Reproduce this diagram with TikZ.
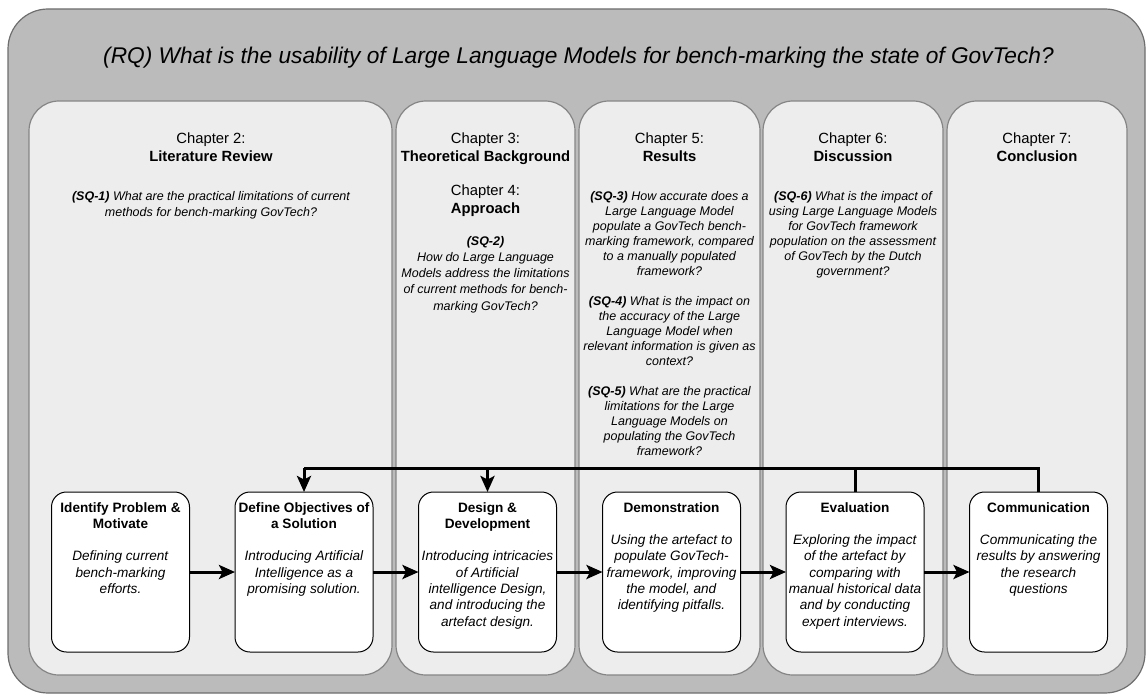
\documentclass[tikz,border=0pt]{standalone}
\usepackage{fontspec}
\setmainfont{Liberation Sans}
\usetikzlibrary{arrows.meta}

\definecolor{framefill}{HTML}{BBBBBB}
\definecolor{frameline}{HTML}{6E6E6E}
\definecolor{colfill}{HTML}{EDEDED}
\definecolor{colline}{HTML}{858585}

\begin{document}
\begin{tikzpicture}[x=1pt,y=-1pt,
  frame/.style={draw=frameline, fill=framefill, line width=1.2pt, rounded corners=40pt,
    inner sep=0pt, outer sep=0pt},
  column/.style={draw=colline, fill=colfill, line width=1.2pt, rounded corners=30pt,
    inner sep=0pt, outer sep=0pt, minimum height=574pt},
  rqtitle/.style={inner sep=0pt, font=\fontsize{22.7}{27}\selectfont\itshape},
  chap/.style={inner sep=0pt, align=center, anchor=north, font=\fontsize{14.8}{17.8}\selectfont},
  sq/.style={inner sep=0pt, align=center, anchor=north, font=\fontsize{12.5}{15.1}\selectfont\itshape},
  stepbox/.style={draw=black, fill=white, line width=1pt, rounded corners=15pt,
    minimum width=138pt, minimum height=160pt, inner sep=0pt, outer sep=0pt},
  boxtext/.style={inner sep=0pt, align=center, anchor=north, font=\fontsize{13.6}{16.3}\selectfont},
  flow/.style={line width=3pt, -{Stealth[length=16pt,width=14pt,inset=3.5pt]}},
  link/.style={line width=3pt, line join=miter},
]
\useasboundingbox (0,0) rectangle (1147,695);

% outer frame holding the research question
\node[frame, minimum width=1137pt, minimum height=684pt] (frame) at (576.5,351) {};
\node[rqtitle] (rq) at (578.5,58)
  {(RQ) What is the usability of Large Language Models for bench-marking the state of GovTech?};

% chapter columns
\node[column, minimum width=363pt] (col1) at (210.5,388) {};
\node[column, minimum width=179pt] (col2) at (485.5,388) {};
\node[column, minimum width=181pt] (col3) at (669.5,388) {};
\node[column, minimum width=180pt] (col4) at (853,388) {};
\node[column, minimum width=180pt] (col5) at (1037,388) {};

% chapter headings
\node[chap] (ch2) at (211,133) {Chapter 2:\\\textbf{Literature Review}};
\node[chap] (ch3) at (485.5,133) {Chapter 3:\\\textbf{Theoretical Background}};
\node[chap] (ch4) at (485.5,185) {Chapter 4:\\\textbf{Approach}};
\node[chap] (ch5) at (669.5,133) {Chapter 5:\\\textbf{Results}};
\node[chap] (ch6) at (853,133) {Chapter 6:\\\textbf{Discussion}};
\node[chap] (ch7) at (1037,133) {Chapter 7:\\\textbf{Conclusion}};

% sub-questions
\node[sq, font=\fontsize{12.5}{16.3}\selectfont\itshape] (sq1) at (211,191)
  {\textbf{(SQ-1)} What are the practical limitations of current\\methods for bench-marking GovTech?};
\node[sq, font=\fontsize{12.5}{16.2}\selectfont\itshape] (sq2) at (485.5,236)
  {\textbf{(SQ-2)}\\How do Large Language\\Models address the limitations\\of current methods for bench-\\marking GovTech?};
\node[sq] (sq3) at (669.5,191)
  {\textbf{(SQ-3)} How accurate does a\\Large Language Model\\populate a GovTech bench-\\marking framework, compared\\to a manually populated\\framework?};
\node[sq] (sq4) at (669.5,296)
  {\textbf{(SQ-4)} What is the impact on\\the accuracy of the Large\\Language Model when\\relevant information is given as\\context?};
\node[sq] (sq5) at (669.5,386)
  {\textbf{(SQ-5)} What are the practical\\limitations for the Large\\Language Models on\\populating the GovTech\\framework?};
\node[sq] (sq6) at (853,191)
  {\textbf{(SQ-6)} What is the impact of\\using Large Language Models\\for GovTech framework\\population on the assessment\\of GovTech by the Dutch\\government?};

% process steps
\node[stepbox] (idp) at (120.5,572) {};
\node[stepbox] (obj) at (304,572) {};
\node[stepbox] (des) at (487.5,572) {};
\node[stepbox] (dem) at (671.5,572) {};
\node[stepbox] (eva) at (855,572) {};
\node[stepbox] (com) at (1038.5,572) {};

\node[boxtext] (idpT) at (120.5,502)
  {\textbf{Identify Problem \&}\\\textbf{Motivate}\\[16.3pt]\textit{Defining current}\\\textit{bench-marking}\\\textit{efforts.}};
\node[boxtext] (objT) at (304,502)
  {\textbf{Define Objectives of}\\\textbf{a Solution}\\[16.3pt]\textit{Introducing Artificial}\\\textit{Intelligence as a}\\\textit{promising solution.}};
\node[boxtext] (desT) at (487.5,502)
  {\textbf{Design \&}\\\textbf{Development}\\[16.3pt]\textit{Introducing intricacies}\\\textit{of Artificial}\\\textit{intelligence Design,}\\\textit{and introducing the}\\\textit{artefact design.}};
\node[boxtext] (demT) at (671.5,502)
  {\textbf{Demonstration}\\[16.3pt]\textit{Using the artefact to}\\\textit{populate GovTech-}\\\textit{framework, improving}\\\textit{the model, and}\\\textit{identifying pitfalls.}};
\node[boxtext] (evaT) at (855,502)
  {\textbf{Evaluation}\\[16.3pt]\textit{Exploring the impact}\\\textit{of the artefact by}\\\textit{comparing with}\\\textit{manual historical data}\\\textit{and by conducting}\\\textit{expert interviews.}};
\node[boxtext] (comT) at (1038.5,502)
  {\textbf{Communication}\\[16.3pt]\textit{Communicating the}\\\textit{results by answering}\\\textit{the research}\\\textit{questions}};

% forward flow
\draw[flow] (idp) -- (obj);
\draw[flow] (obj) -- (des);
\draw[flow] (des) -- (dem);
\draw[flow] (dem) -- (eva);
\draw[flow] (eva) -- (com);

% feedback from evaluation and communication
\coordinate (fb) at (0,468);
\draw[link] (com.north) -- (com.north |- fb) -- (obj.north |- fb);
\draw[link] (eva.north) -- (eva.north |- fb);
\draw[flow] (obj.north |- fb) -- (obj.north);
\draw[flow] (des.north |- fb) -- (des.north);
\end{tikzpicture}
\end{document}
